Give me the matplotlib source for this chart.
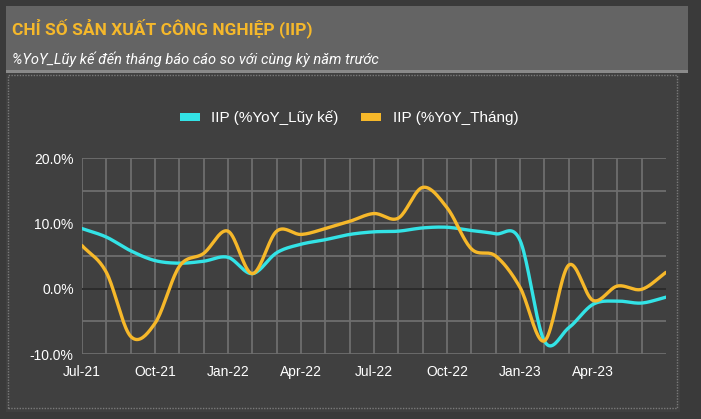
import numpy as np
import matplotlib
matplotlib.use("Agg")
import matplotlib.pyplot as plt
from matplotlib.patches import Rectangle, Patch

# data (% YoY)
months = ["Jul-21", "Aug-21", "Sep-21", "Oct-21", "Nov-21", "Dec-21",
          "Jan-22", "Feb-22", "Mar-22", "Apr-22", "May-22", "Jun-22",
          "Jul-22", "Aug-22", "Sep-22", "Oct-22", "Nov-22", "Dec-22",
          "Jan-23", "Feb-23", "Mar-23", "Apr-23", "May-23", "Jun-23", "Jul-23"]
iip_luyke = [9.2, 7.9, 5.8, 4.3, 3.9, 4.2, 4.8, 2.3, 5.5, 6.8, 7.5, 8.3,
             8.7, 8.8, 9.3, 9.4, 8.9, 8.4, 7.4, -8.0, -6.0, -2.4, -1.9, -2.2, -1.3]
iip_thang = [6.6, 2.5, -7.3, -5.3, 3.4, 5.4, 8.8, 2.3, 8.8, 8.3, 9.2, 10.3,
             11.5, 10.8, 15.5, 12.4, 6.1, 5.0, 0.2, -8.0, 3.6, -1.8, 0.4, -0.1, 2.5]
tick_labels = ["Jul-21", "Oct-21", "Jan-22", "Apr-22", "Jul-22", "Oct-22", "Jan-23", "Apr-23"]

CYAN = "#33e3e6"
GOLD = "#f6b82a"


def smooth(y, n=20):
    # excel-like smoothed line (catmull-rom through the points)
    y = np.asarray(y, float)
    xs, ys = [], []
    for i in range(len(y) - 1):
        p0, p1 = y[i], y[i + 1]
        m0 = (y[i + 1] - y[i - 1]) / 2 if i > 0 else (y[1] - y[0])
        m1 = (y[i + 2] - y[i]) / 2 if i + 2 < len(y) else (y[-1] - y[-2])
        t = np.linspace(0, 1, n, endpoint=False)
        h00 = 2*t**3 - 3*t**2 + 1
        h10 = t**3 - 2*t**2 + t
        h01 = -2*t**3 + 3*t**2
        h11 = t**3 - t**2
        xs.append(i + t)
        ys.append(h00*p0 + h10*m0 + h01*p1 + h11*m1)
    xs.append([len(y) - 1])
    ys.append([y[-1]])
    return np.concatenate(xs), np.concatenate(ys)


fig = plt.figure(figsize=(7.01, 4.19), dpi=100)
fig.patch.set_facecolor("#3a3a3a")

W, H = 701, 419
def box(x0, y0, x1, y1, **kw):
    # pixel box, y measured from the top
    fig.patches.append(Rectangle((x0 / W, 1 - y1 / H), (x1 - x0) / W, (y1 - y0) / H,
                                 transform=fig.transFigure, zorder=-5, **kw))

box(6, 73, 680, 412, facecolor="#404040", edgecolor="none")
box(8, 75, 677, 408, facecolor="none", edgecolor="#7a7a7a", lw=1, ls=(0, (1, 1)))
box(6, 6, 688, 71, facecolor="#646464", edgecolor="none")
box(6, 70, 688, 73, facecolor="#8a8a8a", edgecolor="none")

fig.text(12 / W, 1 - 34 / H, "CHỈ SỐ SẢN XUẤT CÔNG NGHIỆP (IIP)", color="#f5b82b",
         fontsize=12.5, fontweight="bold", family="Roboto")
fig.text(12 / W, 1 - 64 / H, "%YoY_Lũy kế đến tháng báo cáo so với cùng kỳ năm trước",
         color="white", fontsize=10.5, style="italic", family="Roboto")

ax = fig.add_axes([82 / W, 1 - 354 / H, 584 / W, 196 / H])
ax.set_facecolor("#404040")
for s in ax.spines.values():
    s.set_visible(False)

x = np.arange(len(months))
ax.set_xlim(0, len(months) - 1)
ax.set_ylim(-10, 20)
ax.set_xticks(x[:-1])
ax.set_xticklabels([m if m in tick_labels else "" for m in months[:-1]])
ax.set_yticks(np.arange(-10, 21, 5))
ax.set_yticklabels(["%.1f%%" % v if v % 10 == 0 else "" for v in np.arange(-10, 21, 5)])
ax.grid(True, color="#6e6e6e", lw=1.3)
ax.set_axisbelow(True)
ax.tick_params(axis="y", length=0, colors="white", labelsize=10, pad=6)
ax.tick_params(axis="x", length=0, colors="white", labelsize=10, pad=8)
for lab in ax.get_xticklabels() + ax.get_yticklabels():
    lab.set_family("Liberation Sans")
ax.axhline(0, color="#262626", lw=1.3, zorder=1.5)

xs, ys = smooth(iip_luyke)
ax.plot(xs, ys, color=CYAN, lw=2.4, solid_capstyle="round", zorder=3)
xs, ys = smooth(iip_thang)
ax.plot(xs, ys, color=GOLD, lw=2.4, solid_capstyle="round", zorder=4)

handles = [Patch(facecolor=CYAN, label="IIP (%YoY_Lũy kế)"),
           Patch(facecolor=GOLD, label="IIP (%YoY_Tháng)")]
leg = fig.legend(handles=handles, loc="center", bbox_to_anchor=(349 / W, 1 - 118 / H),
                 ncol=2, frameon=False, handlelength=1.3, handleheight=0.46,
                 columnspacing=1.5, handletextpad=0.75, prop={"family": "Liberation Sans", "size": 11})
for t in leg.get_texts():
    t.set_color("white")

fig.savefig("out.png", dpi=100, facecolor=fig.get_facecolor())
